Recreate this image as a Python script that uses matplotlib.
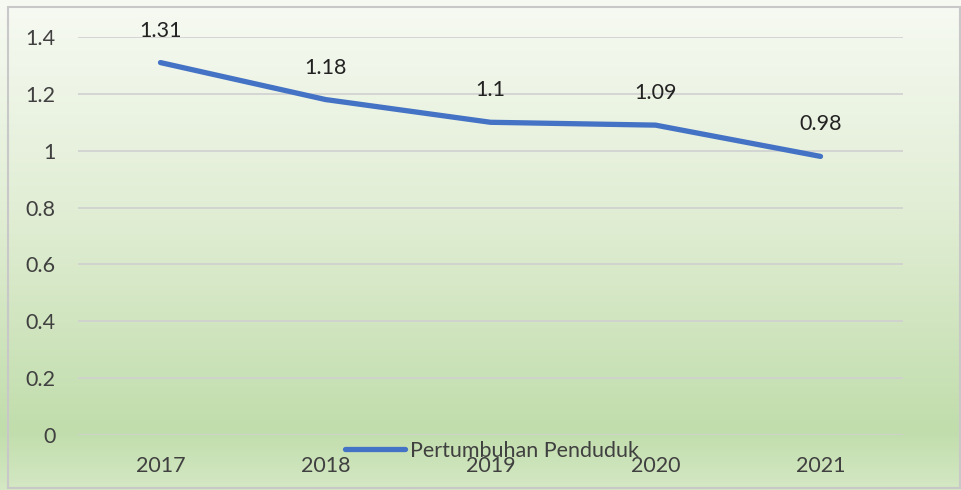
import numpy as np
import matplotlib.pyplot as plt
from matplotlib.patches import Rectangle

# ===== data =====
YEARS = ["2017", "2018", "2019", "2020", "2021"]
GROWTH = [1.31, 1.18, 1.1, 1.09, 0.98]
LABELS = ["1.31", "1.18", "1.1", "1.09", "0.98"]
SERIES_NAME = "Pertumbuhan Penduduk"

LINE_COLOR = "#4472C4"
TEXT_COLOR = "#404040"
GRID_COLOR = "#d0d0d0"
FS = 15.5

plt.rcParams["font.family"] = ["Lato", "DejaVu Sans"]

W, H = 962, 490
fig = plt.figure(figsize=(W / 100, H / 100), dpi=100)

# background gradient (whole chart area)
bg = fig.add_axes([0, 0, 1, 1], zorder=-2)
stops_y = np.array([0.0, 0.45, 0.88, 1.0])
stops_c = np.array([
    [247, 250, 243],
    [224, 237, 211],
    [193, 221, 172],
    [212, 232, 196],
]) / 255.0
yy = np.linspace(0, 1, 300)
grad = np.stack([np.interp(yy, stops_y, stops_c[:, k]) for k in range(3)], axis=1)
img = np.repeat(grad[:, None, :], 10, axis=1)
bg.imshow(img, aspect="auto", extent=[0, 1, 1, 0])
bg.add_patch(Rectangle((8 / W, 2 / H), (W - 10) / W, (H - 9) / H,
                       transform=bg.transAxes, fill=False, ec="#c8c8c8", lw=1.5))
bg.set_xlim(0, 1)
bg.set_ylim(1, 0)
bg.axis("off")

ax = fig.add_axes([78 / W, 1 - 435 / H, 825 / W, 398 / H])
ax.patch.set_alpha(0)

x = np.arange(len(YEARS))
line, = ax.plot(x, GROWTH, color=LINE_COLOR, lw=3.8, solid_capstyle="round",
                solid_joinstyle="round", label=SERIES_NAME, zorder=3)

for xi, yi, lab in zip(x, GROWTH, LABELS):
    ax.annotate(lab, (xi, yi), xytext=(0, 23), textcoords="offset points",
                ha="center", va="center", fontsize=FS, color="#222222")

ax.set_xlim(-0.5, len(YEARS) - 0.5)
ax.set_ylim(0, 1.4)
ax.set_yticks(np.arange(0, 1.41, 0.2))
ax.set_yticklabels(["0", "0.2", "0.4", "0.6", "0.8", "1", "1.2", "1.4"])
ax.set_xticks(x)
ax.set_xticklabels(YEARS)
ax.tick_params(axis="both", length=0, labelsize=FS, colors=TEXT_COLOR)
ax.tick_params(axis="y", pad=16)
ax.tick_params(axis="x", pad=15)
ax.yaxis.grid(True, color=GRID_COLOR, lw=1.2)
ax.set_axisbelow(True)
for s in ax.spines.values():
    s.set_visible(False)

leg = fig.legend(handles=[line], loc="center", bbox_to_anchor=(492 / W, 1 - 451 / H),
                 frameon=False, fontsize=FS, handlelength=2.8, handletextpad=0.2,
                 labelcolor=TEXT_COLOR)

fig.savefig("out.png", dpi=100)
